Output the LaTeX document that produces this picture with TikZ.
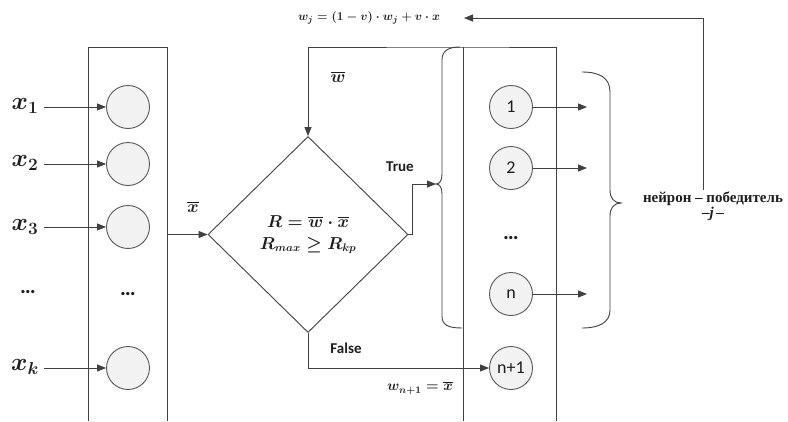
\documentclass[tikz,border=0pt]{standalone}
\usepackage{amsmath}
\usepackage[no-math]{fontspec}
\setmainfont{Carlito}
\newfontfamily\cyr{Liberation Serif}
\usetikzlibrary{arrows.meta,shapes.geometric}
\definecolor{lc}{HTML}{404040}
\definecolor{cc}{HTML}{595959}
\definecolor{cf}{HTML}{F2F2F2}
\definecolor{tc}{HTML}{1E1E1E}
\begin{document}
\begin{tikzpicture}[x=1pt,y=-1pt,
  ln/.style={draw=lc,line width=0.9pt},
  arr/.style={ln,-{Triangle[length=9pt,width=7pt]}},
  neuron/.style={circle,draw=cc,fill=cf,line width=0.9pt,minimum size=43pt,inner sep=0pt,text=tc,font=\fontsize{18}{18}\selectfont},
  xlab/.style={text=tc,inner sep=0pt,font=\fontsize{23}{24}\selectfont\boldmath},
  mlab/.style={text=tc,inner sep=0pt,font=\fontsize{17}{18}\selectfont\boldmath},
  slab/.style={text=tc,inner sep=0pt,font=\fontsize{13}{15}\selectfont\boldmath},
  tlab/.style={text=tc,inner sep=0pt,font=\fontsize{15}{15}\selectfont\bfseries},
  dots/.style={text=tc,inner sep=0pt,font=\fontsize{22}{22}\selectfont\bfseries},
  cyrlab/.style={text=tc,inner sep=0pt,font=\fontsize{15}{15}\selectfont\cyr\bfseries}]
\useasboundingbox[fill=white] (0,0) rectangle (788,421);
% left box
\draw[ln] (88,421) -- (88,47) -- (167,47) -- (167,421);
% input neurons
\node[neuron] (a1) at (128,107) {};
\node[neuron] (a2) at (128,164) {};
\node[neuron] (a3) at (128,227) {};
\node[dots] (adots) at (128,294) {\ldots};
\node[neuron] (ak) at (128,368) {};
% input labels
\node[xlab] (x1) at (25,106) {$x_1$};
\node[xlab] (x2) at (25,163) {$x_2$};
\node[xlab] (x3) at (25,227) {$x_3$};
\node[dots] (xdots) at (28,292) {\ldots};
\node[xlab] (xk) at (25,367) {$x_k$};
\coordinate (x1s) at (44,107);
\coordinate (x2s) at (44,164);
\coordinate (x3s) at (44,227);
\coordinate (xks) at (44,368);
\draw[arr] (x1s) -- (a1);
\draw[arr] (x2s) -- (a2);
\draw[arr] (x3s) -- (a3);
\draw[arr] (xks) -- (ak);
% diamond
\node[diamond,draw=lc,line width=0.9pt,minimum width=200pt,minimum height=196pt,inner sep=0pt,text=tc,align=center,font=\fontsize{16}{23}\selectfont\boldmath] (d) at (308,234.5) {$R=\overline{w}\cdot\overline{x}$\\[-1pt]$R_{max}\geq R_{kp}$};
\coordinate (lbout) at (167,234.5);
\draw[arr] (lbout) -- (d.west);
\node[mlab] (xbar) at (193,207) {$\overline{x}$};
% top feedback into diamond
\coordinate (tcn) at (308,47);
\draw[arr] (tcn) -- (d.north);
\node[mlab] (wbar) at (338,77) {$\overline{w}$};
% right box
\draw[ln] (tcn) -- (463,47) -- (556,47) -- (556,421);
\draw[ln] (463,47) -- (463,421);
% left brace
\coordinate (btip) at (436,184);
\draw[ln] (460,47) .. controls (448,47) and (442,51) .. (442,60) -- (442,174) .. controls (442,180) and (440,184) .. (btip) .. controls (440,184) and (442,188) .. (442,194) -- (442,316) .. controls (442,325) and (448,328) .. (462,328);
% true branch
\coordinate (tb) at (412,234.5);
\draw[arr] (d.east) -- (tb) |- (btip);
\node[tlab] (true) at (400,167) {True};
% false branch
\node[neuron] (bn1) at (511,368) {n+1};
\coordinate (fc) at (308,368);
\draw[arr] (d.south) -- (fc) -- (bn1.west);
\node[tlab] (false) at (346,348) {False};
\node[slab,font=\fontsize{14}{15}\selectfont\boldmath] (wn1) at (420,388) {$w_{n+1}=\overline{x}$};
% output neurons
\node[neuron] (b1) at (511,107) {1};
\node[neuron] (b2) at (511,168) {2};
\node[dots] (bdots) at (511,238) {\ldots};
\node[neuron] (bn) at (511,294) {n};
\coordinate (o1) at (587,107);
\coordinate (o2) at (587,168);
\coordinate (on) at (587,294);
\draw[arr] (b1) -- (o1);
\draw[arr] (b2) -- (o2);
\draw[arr] (bn) -- (on);
% right brace
\draw[ln] (582,72) .. controls (600,72) and (610,78) .. (610,92) -- (610,190) .. controls (610,198) and (614,203) .. (621,203) .. controls (614,203) and (610,208) .. (610,216) -- (610,310) .. controls (610,322) and (600,328) .. (582,328);
\node[cyrlab] (win) at (713,199) {нейрон – победитель};
\node[cyrlab] (winj) at (713,214) {–\textit{j}\,–};
% feedback to update rule
\node[slab] (wj) at (369,18) {$w_j=(1-v)\cdot w_j+v\cdot x$};
\coordinate (fb) at (703,190);
\coordinate (wjtip) at (464,18);
\draw[arr] (fb) |- (wjtip);
\end{tikzpicture}
\end{document}
